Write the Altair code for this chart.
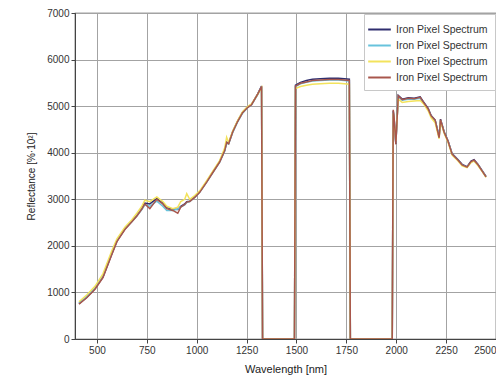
import altair as alt
import pandas as pd

wavelength = [410, 450, 490, 530, 575, 600, 640, 675, 700, 725, 740, 765, 800, 830, 850, 880,
              905, 920, 940, 950, 965, 990, 1015, 1050, 1080, 1115, 1140, 1150, 1160, 1180,
              1205, 1230, 1255, 1275, 1305, 1325, 1330, 1490, 1495, 1520, 1550, 1580, 1620,
              1665, 1710, 1740, 1765, 1770, 1980, 1985, 1990, 1998, 2010, 2030, 2060, 2090,
              2120, 2135, 2160, 2175, 2195, 2215, 2222, 2240, 2260, 2280, 2310, 2330, 2355,
              2375, 2390, 2410, 2430, 2450]

series_names = ["s1", "s2", "s3", "s4"]

refl_1 = [760, 900, 1080, 1330, 1830, 2100, 2360, 2530, 2650, 2800, 2920, 2900, 3020, 2920, 2820, 2790,
          2780, 2850, 2900, 2950, 2960, 3050, 3160, 3380, 3580, 3810, 4050, 4230, 4200, 4450,
          4680, 4870, 4980, 5040, 5260, 5430, 0, 0, 5450, 5510, 5550, 5580, 5590,
          5600, 5600, 5590, 5580, 0, 0, 4900, 4700, 4190, 5230, 5150, 5180, 5170,
          5200, 5100, 4950, 4800, 4700, 4340, 4720, 4450, 4250, 3980, 3850, 3750, 3700,
          3820, 3850, 3750, 3620, 3490]

refl_2 = [770, 910, 1090, 1340, 1850, 2110, 2370, 2520, 2640, 2780, 2880, 2850, 2960, 2850, 2760, 2760,
          2790, 2830, 2880, 2930, 2950, 3040, 3150, 3370, 3570, 3800, 4030, 4200, 4190, 4430,
          4660, 4850, 4970, 5030, 5240, 5400, 0, 0, 5420, 5480, 5510, 5540, 5550,
          5560, 5560, 5550, 5540, 0, 0, 4880, 4680, 4200, 5200, 5130, 5150, 5150,
          5170, 5080, 4930, 4780, 4690, 4360, 4700, 4440, 4240, 3970, 3840, 3740, 3690,
          3800, 3830, 3740, 3610, 3480]

refl_3 = [800, 950, 1130, 1400, 1900, 2150, 2400, 2560, 2700, 2850, 2980, 2950, 3050, 2950, 2850, 2800,
          2830, 2950, 3000, 3120, 3000, 3080, 3180, 3400, 3600, 3830, 4100, 4330, 4220, 4460,
          4690, 4880, 4990, 5050, 5250, 5400, 0, 0, 5380, 5420, 5450, 5470, 5480,
          5490, 5490, 5480, 5470, 0, 0, 4850, 4650, 4250, 5150, 5080, 5100, 5110,
          5120, 5060, 4900, 4750, 4640, 4300, 4680, 4420, 4220, 3950, 3820, 3720, 3680,
          3790, 3820, 3720, 3600, 3470]

refl_4 = [750, 890, 1070, 1320, 1820, 2090, 2350, 2520, 2640, 2790, 2900, 2800, 3000, 2900, 2800, 2760,
          2700, 2830, 2890, 2940, 2950, 3040, 3150, 3370, 3570, 3800, 4040, 4220, 4190, 4440,
          4670, 4860, 4970, 5030, 5250, 5420, 0, 0, 5430, 5490, 5520, 5550, 5560,
          5570, 5570, 5560, 5550, 0, 0, 4920, 4720, 4180, 5220, 5140, 5170, 5160,
          5190, 5090, 4940, 4790, 4700, 4320, 4710, 4440, 4240, 3970, 3840, 3740, 3690,
          3810, 3840, 3740, 3610, 3480]

colors = ["#2e2d6e", "#67c3dc", "#f3e35c", "#a8564c"]

rows = []
for name, vals in zip(series_names, [refl_1, refl_2, refl_3, refl_4]):
    for i, (w, v) in enumerate(zip(wavelength, vals)):
        rows.append({"series": name, "wavelength": w, "reflectance": v, "idx": i})
df = pd.DataFrame(rows)

chart = alt.Chart(df).mark_line(strokeWidth=1.5, clip=True).encode(
    x=alt.X("wavelength:Q", title="Wavelength [nm]",
            scale=alt.Scale(domain=[390, 2500], nice=False, zero=False),
            axis=alt.Axis(values=[500, 750, 1000, 1250, 1500, 1750, 2000, 2250, 2500],
                          format="d", labelFontSize=10, titleFontSize=11, titlePadding=8,
                          labelFlush=True)),
    y=alt.Y("reflectance:Q", title="Reflectance [%·10²]",
            scale=alt.Scale(domain=[0, 7000], nice=False),
            axis=alt.Axis(values=[0, 1000, 2000, 3000, 4000, 5000, 6000, 7000],
                          format="d", labelFontSize=10, titleFontSize=10, titlePadding=10)),
    color=alt.Color("series:N", scale=alt.Scale(domain=series_names, range=colors),
                    legend=alt.Legend(title=None, orient="top-right", offset=1,
                                      labelExpr="'Iron Pixel Spectrum'",
                                      symbolType="M-1.6,0H1.6", symbolSize=200,
                                      symbolStrokeWidth=2, labelFontSize=10.5,
                                      fillColor="white", strokeColor="#c8c8c8",
                                      padding=7, rowPadding=2, labelOffset=8)),
    order="idx:Q",
).properties(
    width=421, height=326,
    autosize=alt.AutoSizeParams(type="none"),
    padding={"left": 67, "top": 5, "right": 0, "bottom": 40},
).configure_axis(
    gridColor="#a3a3a3", gridWidth=1, domainColor="#444444", tickColor="#444444",
    labelColor="#333333", titleColor="#222222", labelFont="Liberation Sans",
    titleFont="Liberation Sans", titleFontWeight="normal", tickSize=4,
).configure_view(
    stroke="#444444", strokeWidth=1.2,
).configure_legend(
    labelFont="Liberation Sans", labelColor="#333333",
)

chart.save("out.html", embed_options={"renderer": "svg", "actions": False})
